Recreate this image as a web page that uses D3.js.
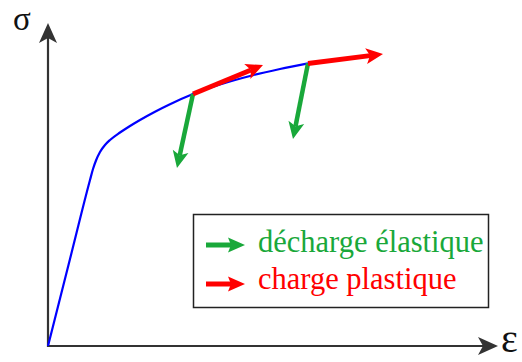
<!DOCTYPE html>
<html>
<head>
<meta charset="utf-8">
<script src="https://cdn.jsdelivr.net/npm/d3@7"></script>
<style>
  html, body { margin: 0; padding: 0; background: #fff; }
  svg { display: block; }
</style>
</head>
<body>
<svg id="chart" width="522" height="362"></svg>
<script>
// ---- data (arbitrary strain / stress units) ----
const strain = [0, 22, 42, 45, 48, 52, 57, 62, 72, 82, 92, 107, 122, 145, 172, 205, 232, 260];
const stress = [0, 87, 166, 177, 185.5, 194, 201, 206, 213.5, 220, 226, 234.3, 241.8, 252, 261.5, 270.8, 277, 282.6];

// plastic loading arrows (red): start / end
const loadStartX = [145, 260];
const loadStartY = [252, 282.6];
const loadEndX   = [215, 335];
const loadEndY   = [281, 292];

// elastic unloading arrows (green): start / end
const unloadStartX = [145, 260];
const unloadStartY = [252, 282.6];
const unloadEndX   = [129, 245];
const unloadEndY   = [178, 207];

const legendLabels = ["décharge élastique", "charge plastique"];
const axisLabels = ["σ", "ε"];

// ---- layout ----
const origin = {x: 48, y: 346};
const x = d3.scaleLinear().domain([0, 450]).range([origin.x, origin.x + 450]);
const y = d3.scaleLinear().domain([0, 323]).range([origin.y, origin.y - 323]);

const GREEN = "#19a83a", RED = "#ff0000", BLUE = "#0000ff", AXIS = "#333333";
const SERIF = '"Liberation Serif"';

const svg = d3.select("#chart");

// arrowhead path (stealth style) with tip at (tx,ty), pointing along angle a
function headPath(tx, ty, a, len, half, notch) {
  const c = Math.cos(a), s = Math.sin(a);
  const bx = tx - c * len, by = ty - s * len;
  const p1 = [bx - s * half, by + c * half];
  const p2 = [bx + s * half, by - c * half];
  const n = [tx - c * (len - notch), ty - s * (len - notch)];
  return `M${tx},${ty}L${p1[0]},${p1[1]}L${n[0]},${n[1]}L${p2[0]},${p2[1]}Z`;
}
function arrow(g, x0, y0, x1, y1, color, width, len, half, notch) {
  const a = Math.atan2(y1 - y0, x1 - x0);
  const back = len - notch;
  g.append("line")
    .attr("x1", x0).attr("y1", y0)
    .attr("x2", x1 - Math.cos(a) * back).attr("y2", y1 - Math.sin(a) * back)
    .attr("stroke", color).attr("stroke-width", width);
  g.append("path").attr("d", headPath(x1, y1, a, len, half, notch)).attr("fill", color);
}

// axes
const axes = svg.append("g");
arrow(axes, x(0), y(0) + 1, x(0), y(323), AXIS, 2.2, 20, 9, 5);
arrow(axes, x(0) - 1, y(0), x(450), y(0), AXIS, 2.2, 20, 9, 5);

axes.append("text").text(axisLabels[0])
  .attr("x", 13).attr("y", 29.5)
  .style("font-family", SERIF).style("font-size", "33px").style("fill", "#111");
axes.append("text").text(axisLabels[1])
  .attr("x", 501).attr("y", 352)
  .style("font-family", SERIF).style("font-size", "40px").style("fill", "#111");

// curve
const line = d3.line().x((d, i) => x(strain[i])).y((d, i) => y(stress[i])).curve(d3.curveMonotoneX);
svg.append("path").attr("d", line(strain))
  .attr("fill", "none").attr("stroke", BLUE).attr("stroke-width", 2.2);

// arrows
const arr = svg.append("g");
unloadStartX.forEach((d, i) => {
  arrow(arr, x(unloadStartX[i]), y(unloadStartY[i]), x(unloadEndX[i]), y(unloadEndY[i]), GREEN, 4.5, 17, 8, 4);
});
loadStartX.forEach((d, i) => {
  arrow(arr, x(loadStartX[i]), y(loadStartY[i]), x(loadEndX[i]), y(loadEndY[i]), RED, 5, 17, 8, 4);
});

// legend
const lg = svg.append("g");
lg.append("rect").attr("x", 193.5).attr("y", 214.5).attr("width", 295).attr("height", 93)
  .attr("fill", "#fff").attr("stroke", "#222").attr("stroke-width", 1.5);
const legColors = [GREEN, RED];
const legY = [245, 284];
const legTextY = [252, 288.5];
legendLabels.forEach((lab, i) => {
  arrow(lg, 206, legY[i], 245, legY[i], legColors[i], 5, 17, 7.5, 3);
  lg.append("text").text(lab)
    .attr("x", 258).attr("y", legTextY[i])
    .style("font-family", SERIF).style("font-size", "30.5px")
    .style("fill", legColors[i]);
});
</script>
</body>
</html>
